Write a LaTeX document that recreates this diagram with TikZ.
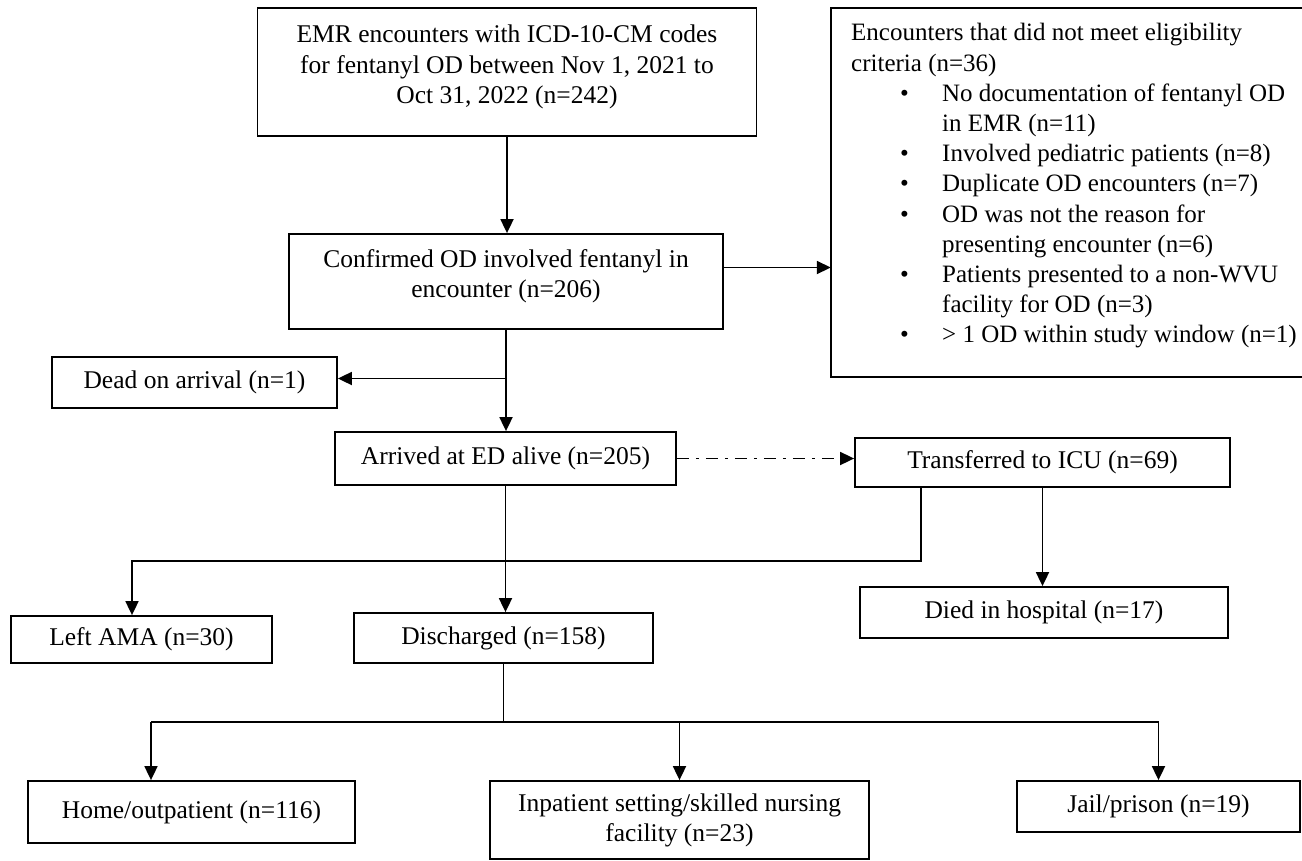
\documentclass[tikz,border=0pt]{standalone}
\usepackage{fontspec}
\setmainfont{Liberation Serif}
\usetikzlibrary{arrows.meta,calc}
\tikzset{
 box/.style={draw, line width=1.8pt, inner sep=0pt, align=center, font=\fontsize{25.5}{30.2}\selectfont},
 txt/.style={inner sep=0pt, align=center, font=\fontsize{25.5}{30.2}\selectfont},
 ln/.style={line width=1.8pt},
 arr/.style={line width=1.8pt, -{Triangle[length=14pt,width=13pt]}},
 dd/.style={arr, dash pattern=on 12pt off 7pt on 3pt off 7pt},
}
\newcommand\bitem{\makebox[91pt][l]{\hspace{49pt}\textbullet}}
\newcommand\bcont{\hspace*{91pt}}
\begin{document}
\begin{tikzpicture}[x=1pt,y=-1pt]
\useasboundingbox (0,0) rectangle (1302,860);
% boxes
\node[box, minimum width=499pt, minimum height=128pt] (A) at (507,72) {};
\node[txt] (At) at (507,67) {EMR encounters with ICD-10-CM codes\\ for fentanyl OD between Nov 1, 2021 to\\ Oct 31, 2022 (n=242)};
\node[box, minimum width=434pt, minimum height=95pt] (B) at (506,281.5) {};
\node[txt] (Bt) at (506,276) {Confirmed OD involved fentanyl in\\ encounter (n=206)};
\node[inner sep=0pt, minimum width=471pt, minimum height=369pt] (E) at (1066.5,192.5) {};
\draw[ln] (E.north east) -- (E.north west) -- (E.south west) -- (E.south east);
\node[txt, align=left, anchor=west, font=\fontsize{25}{30.2}\selectfont] (Et) at (851,186) {Encounters that did not meet eligibility\\
criteria (n=36)\\
\bitem No documentation of fentanyl OD\\
\bcont in EMR (n=11)\\
\bitem Involved pediatric patients (n=8)\\
\bitem Duplicate OD encounters (n=7)\\
\bitem OD was not the reason for\\
\bcont presenting encounter (n=6)\\
\bitem Patients presented to a non-WVU\\
\bcont facility for OD (n=3)\\
\bitem > 1 OD within study window (n=1)};
\node[box, minimum width=285pt, minimum height=51pt] (D) at (194.5,382.5) {Dead on arrival (n=1)};
\node[box, minimum width=341pt, minimum height=53pt] (R) at (505.5,458.5) {Arrived at ED alive (n=205)};
\node[box, minimum width=375pt, minimum height=49pt] (T) at (1042.5,462.5) {Transferred to ICU (n=69)};
\node[box, minimum width=368pt, minimum height=51pt] (H) at (1044,612.5) {Died in hospital (n=17)};
\node[box, minimum width=261pt, minimum height=47pt] (L) at (141.5,639.5) {Left AMA (n=30)};
\node[box, minimum width=299pt, minimum height=50pt] (C) at (503.5,638) {Discharged (n=158)};
\node[box, minimum width=327pt, minimum height=62pt] (Ho) at (191.5,812) {Home/outpatient (n=116)};
\node[box, minimum width=379pt, minimum height=78pt] (I) at (679.5,820) {Inpatient setting/skilled nursing\\ facility (n=23)};
\node[box, minimum width=283pt, minimum height=51pt] (J) at (1158.5,806.5) {Jail/prison (n=19)};
% connectors
\draw[arr] (A.south) -- (A.south |- B.north);
\draw[arr] ([yshift=14pt]B.east) -- ([yshift=14pt]B.east -| E.west);
\draw[arr] (B.south) -- (B.south |- R.north);
\draw[arr] ([yshift=4pt]D.east -| B.south) -- ([yshift=4pt]D.east);
\draw[dd] (R.east) -- (R.east -| T.west);
\draw[arr] (T.south) -- (T.south |- H.north);
\coordinate (tl) at (921,561);
\draw[arr] ([xshift=-121.5pt]T.south) -- (tl) -- ([xshift=-9.5pt]L.north |- tl) -- ([xshift=-9.5pt]L.north);
\draw[arr] (R.south) -- (R.south |- C.north);
\draw[ln] (C.south) -- ++(0,58) coordinate (cb);
\draw[ln] ([xshift=-40.5pt]Ho.north |- cb) -- (J.north |- cb);
\draw[arr] ([xshift=-40.5pt]Ho.north |- cb) -- ([xshift=-40.5pt]Ho.north);
\draw[arr] (I.north |- cb) -- (I.north);
\draw[arr] (J.north |- cb) -- (J.north);
\end{tikzpicture}
\end{document}
